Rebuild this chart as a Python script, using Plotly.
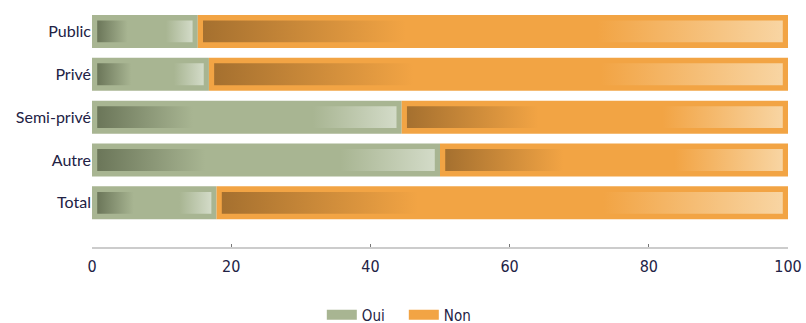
import plotly.graph_objects as go

categories = ["Public", "Privé", "Semi-privé", "Autre", "Total"]
oui = [15.2, 16.8, 44.5, 50.0, 17.9]
non = [round(100 - v, 1) for v in oui]

GREEN = "#a8b592"
ORANGE = "#f2a444"
green_scale = [[0, "#6b7659"], [0.32, GREEN], [0.72, GREEN], [1, "#d3dbc8"]]
orange_scale = [[0, "#a5702f"], [0.35, ORANGE], [0.68, ORANGE], [1, "#f8d5a3"]]

# bottom-to-top order for numeric positioning
cats_bt = categories[::-1]
oui_bt = oui[::-1]
non_bt = non[::-1]
pos = list(range(len(cats_bt)))

BAR_W = 0.77
INSET_X = 0.75
INSET_Y = 0.13

fig = go.Figure()
fig.add_trace(go.Bar(y=pos, x=oui_bt, orientation="h", name="Oui", showlegend=False,
                     marker=dict(color=GREEN, line=dict(width=0)), width=BAR_W))
fig.add_trace(go.Bar(y=pos, x=non_bt, orientation="h", name="Non", base=oui_bt, showlegend=False,
                     marker=dict(color=ORANGE, line=dict(width=0)), width=BAR_W))

# inner gradient panels, derived from the data values
for p, o, n in zip(pos, oui_bt, non_bt):
    for start, length, scale in ((0, o, green_scale), (o, n, orange_scale)):
        x0 = start + INSET_X
        x1 = start + length - INSET_X
        y0 = p - BAR_W / 2 + INSET_Y
        y1 = p + BAR_W / 2 - INSET_Y
        fig.add_trace(go.Scatter(
            x=[x0, x1, x1, x0, x0], y=[y0, y0, y1, y1, y0],
            mode="lines", fill="toself", line=dict(width=0),
            fillgradient=dict(type="horizontal", colorscale=scale),
            showlegend=False, hoverinfo="skip"))

# legend swatches (wide rectangles)
for name, col in (("Oui", GREEN), ("Non", ORANGE)):
    fig.add_trace(go.Scatter(x=[None], y=[None], mode="lines", name=name,
                             line=dict(color=col, width=12)))

NARROW = "DejaVu Sans Condensed"

fig.update_layout(
    width=806, height=323,
    margin=dict(l=92, r=18, t=10, b=76, autoexpand=False),
    paper_bgcolor="white", plot_bgcolor="white",
    barmode="overlay",
    showlegend=True,
    legend=dict(orientation="h", x=0.448, xanchor="center",
                y=-0.287, yanchor="middle", entrywidth=37,
                font=dict(family=NARROW, size=15, color="#222244"),
                traceorder="normal"),
    font=dict(family="Open Sans", color="#222244"),
)
fig.update_xaxes(range=[0, 100], showgrid=False, zeroline=False,
                 showline=True, linecolor="#cccccc", linewidth=1.5,
                 ticks="inside", ticklen=3, tickcolor="#777777",
                 tickvals=[0, 20, 40, 60, 80, 100], automargin=False,
                 ticklabelstandoff=4,
                 tickfont=dict(family=NARROW, size=16, color="#222244"))
fig.update_yaxes(range=[-1.03, 4.5], showgrid=False, zeroline=False,
                 tickvals=pos, ticktext=cats_bt, ticks="", ticklen=0, automargin=False,
                 tickfont=dict(family="Lato", size=16, color="#222244"))

fig.write_html("out.html", config={"displayModeBar": False},
               post_script="document.body.style.margin='0';document.body.style.overflow='hidden';")
